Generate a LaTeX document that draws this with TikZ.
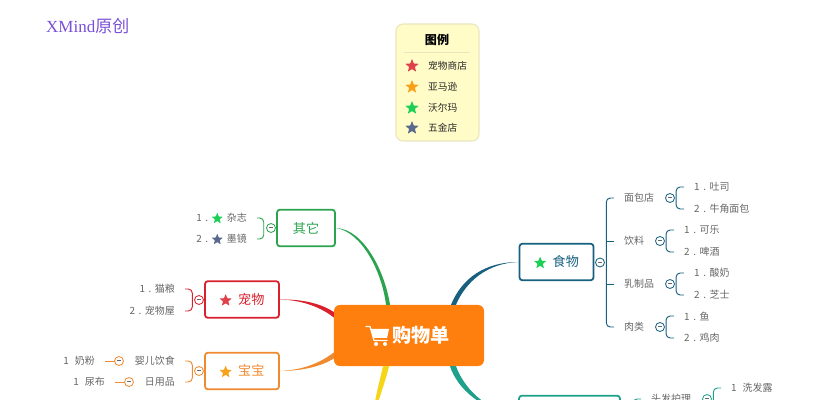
\documentclass[tikz,border=0pt]{standalone}
\usepackage{fontspec}
\setmainfont{Noto Sans CJK SC}
\newfontfamily\titlefont{Liberation Serif}
\usetikzlibrary{calc,shapes.geometric}

\definecolor{foodc}{HTML}{17607F}
\definecolor{otherc}{HTML}{2BA34F}
\definecolor{petc}{HTML}{D9202C}
\definecolor{babyc}{HTML}{F08A30}
\definecolor{carec}{HTML}{1FA08A}
\definecolor{yellowc}{HTML}{F5D517}
\definecolor{rootc}{HTML}{FF7F0E}
\definecolor{leafc}{HTML}{666666}
\definecolor{titlec}{HTML}{7A4FD6}
\definecolor{legendc}{HTML}{FFFCC8}
\definecolor{legendline}{HTML}{E8E5C0}
\definecolor{starred}{HTML}{E0404A}
\definecolor{starorange}{HTML}{F9A11B}
\definecolor{stargreen}{HTML}{1FCF55}
\definecolor{starslate}{HTML}{5A6A8C}

\newcommand{\stargl}[2][11pt]{\tikz[baseline=-0.55ex]\node[fill=#2, star, star points=5, star point ratio=2.3, minimum size=#1, inner sep=0pt, rounded corners=0.4pt]{};}
\newcommand{\nr}[1]{#1\hspace{3pt}.\hspace{3pt}}

\tikzset{
  topic/.style={draw=#1, text=#1, fill=white, rectangle, rounded corners=2.5pt, line width=1.5pt,
    minimum height=1.1cm, inner sep=0pt, font=\fontsize{11.2pt}{12pt}\selectfont},
  leaf/.style={text=leafc, inner xsep=0.3cm, inner ysep=0pt, font=\fontsize{8.5pt}{10pt}\selectfont},
  fold/.style={draw=#1, fill=white, circle, minimum size=0.27cm, inner sep=0pt, line width=0.7pt},
  fork/.style={draw=#1, rounded corners=3.5pt, line width=0.8pt},
  legendtext/.style={anchor=west, inner sep=0pt, text=black!85, font=\fontsize{8.3pt}{10pt}\selectfont},
  legendstar/.style={star, star points=5, star point ratio=2.3, minimum size=12pt, inner sep=0pt, rounded corners=0.4pt}
}
\newcommand{\dash}{\textcolor{leafc}{\rule[0.8pt]{3.2pt}{0.5pt}}}

\begin{document}
\begin{tikzpicture}[x=0.03cm, y=-0.03cm]
  \useasboundingbox (0,0) rectangle (830,400);
  \clip (0,0) rectangle (830,400);

  \node[anchor=west, inner sep=0pt, text=titlec, font=\fontsize{14.5pt}{16pt}\selectfont] (title) at (46,26) {{\titlefont XMind}原创};

  % legend
  \node[draw=legendline, fill=legendc, rounded corners=6pt, line width=0.9pt, minimum width=2.49cm, minimum height=3.51cm, inner sep=0pt] (legend) at (437.5,82.5) {};
  \node[inner sep=0pt, font=\bfseries\fontsize{10.3pt}{12pt}\selectfont] (legendtitle) at (437,40) {图例};
  \coordinate (ruleL) at (404,52);
  \coordinate (ruleR) at (470,52);
  \draw[legendline, line width=0.5pt] (ruleL) -- (ruleR);
  \foreach \name/\col/\txt/\y in {a/starred/宠物商店/66, b/starorange/亚马逊/87, c/stargreen/沃尔玛/108, d/starslate/五金店/128}{
    \node[legendstar, fill=\col] (star\name) at (412,\y) {};
    \node[legendtext] (item\name) at (428,\y) {\txt};
  }

  % main topics
  \node[fill=rootc, rounded corners=5pt, minimum width=4.5cm, minimum height=1.83cm, inner sep=0pt, text=white, font=\bfseries\fontsize{16.3pt}{18pt}\selectfont] (root) at (409,335.5) {\hspace{0.72cm}购物单};
  \node[topic=foodc, minimum width=2.22cm] (food) at (556.5,262) {\stargl{stargreen}\hspace{3pt} 食物};
  \node[topic=otherc, minimum width=1.74cm] (other) at (306,228) {其它};
  \node[topic=petc, minimum width=2.22cm] (pet) at (242,299.5) {\stargl{starred}\hspace{3pt} 宠物};
  \node[topic=babyc, minimum width=2.22cm] (baby) at (242,371) {\stargl{starorange}\hspace{3pt} 宝宝};
  \node[topic=carec, minimum width=3.03cm] (care) at (569.5,414) {};

  % white cart on the root
  \begin{scope}[shift={(root.center)}, white]
    \draw[line width=1pt, line cap=round, line join=round] (-43,-9) -- (-39,-9) -- (-35,5) -- (-22,5);
    \fill (-38,-6.5) -- (-20,-6.5) -- (-22,2.5) -- (-35.5,2.5) -- cycle;
    \fill (-33,8.5) circle (2);
    \fill (-24,8.5) circle (2);
  \end{scope}

  % branches from the root
  \fill[foodc] (food.west) .. controls (485,262) and (462,278) .. ($(root.north)+(42,0)$) -- ($(root.north)+(47,0)$) .. controls (466,281) and (488,263) .. (food.west);
  \fill[otherc] (other.east) .. controls (362,232) and (382,272) .. ($(root.north)+(-23,0)$) -- ($(root.north)+(-19,0)$) .. controls (385,272) and (364,229) .. (other.east);
  \fill[petc] (pet.east) .. controls (303,299) and (322,304) .. ($(root.west)+(0,-23.5)$) -- ($(root.west)+(0,-18)$) .. controls (322,308) and (303,300) .. (pet.east);
  \fill[babyc] (baby.east) .. controls (303,371) and (322,366) .. ($(root.west)+(0,23)$) -- ($(root.west)+(0,17)$) .. controls (320,363) and (303,370) .. (baby.east);
  \coordinate (yellowend) at (370,430);
  \fill[yellowc] ($(root.south)+(-20,0)$) .. controls (386,380) and (380,394) .. (yellowend) .. controls (376,392) and (380,380) .. ($(root.south)+(-26,0)$) -- cycle;
  \fill[carec] ($(root.south)+(41,0)$) .. controls (457,388) and (482,412) .. (care.west) .. controls (485,412) and (463,386) .. ($(root.south)+(47,0)$) -- cycle;

  % food
  \node[fold=foodc] (foodfold) at (600,262.5) {\dash};
  \node[leaf, anchor=west] (bakery) at (614,198) {面包店};
  \node[leaf, anchor=west] (drink) at (614,241) {饮料};
  \node[leaf, anchor=west] (dairy) at (614,284) {乳制品};
  \node[leaf, anchor=west] (meat) at (614,327) {肉类};
  \coordinate (foodfork) at ([xshift=1.2pt]foodfold.east);
  \draw[fork=foodc] (bakery.west) -| (foodfork) |- (meat.west);
  \draw[fork=foodc] (drink.west) -- (drink.west-|foodfork);
  \draw[fork=foodc] (dairy.west) -- (dairy.west-|foodfork);
  \foreach \group/\x/\y/\one/\two in {bakery/670/198/吐司/牛角面包, drink/660/241/可乐/啤酒, dairy/670/284/酸奶/芝士, meat/660/327/鱼/鸡肉}{
    \node[fold=foodc] (\group fold) at (\x,\y) {\dash};
    \node[leaf, anchor=west] (\group one) at ($(\group fold.center)+(14,-11)$) {\nr{1}\one};
    \node[leaf, anchor=west] (\group two) at ($(\group fold.center)+(14,11)$) {\nr{2}\two};
    \draw[fork=foodc] (\group one.west) -| ([xshift=1pt]\group fold.east) |- (\group two.west);
  }

  % other
  \node[fold=otherc] (otherfold) at (271,228) {\dash};
  \node[leaf, anchor=east] (magazine) at (257,218) {\nr{1}\stargl[10pt]{stargreen}\hspace{1.5pt} 杂志};
  \node[leaf, anchor=east] (ink) at (257,239) {\nr{2}\stargl[10pt]{starslate}\hspace{1.5pt} 墨镜};
  \draw[fork=otherc] (magazine.east) -| ([xshift=-2pt]otherfold.west) |- (ink.east);

  % pet
  \node[fold=petc] (petfold) at (199,300) {\dash};
  \node[leaf, anchor=east] (catfood) at (185,289) {\nr{1}猫粮};
  \node[leaf, anchor=east] (pethouse) at (185,311) {\nr{2}宠物屋};
  \draw[fork=petc] (catfood.east) -| ([xshift=-1.5pt]petfold.west) |- (pethouse.east);

  % baby
  \node[fold=babyc] (babyfold) at (199,371) {\dash};
  \node[leaf, anchor=east] (babyfood) at (185,361) {婴儿饮食};
  \node[leaf, anchor=east] (daily) at (185,382) {日用品};
  \draw[fork=babyc] (babyfood.east) -| ([xshift=-1.5pt]babyfold.west) |- (daily.east);
  \node[fold=babyc] (babyfoodfold) at (119,361) {\dash};
  \node[fold=babyc] (dailyfold) at (129,382) {\dash};
  \node[leaf, anchor=east] (milk) at (105,361) {1\hspace{5pt}奶粉};
  \node[leaf, anchor=east] (diaper) at (115,382) {1\hspace{5pt}尿布};
  \draw[babyc, line width=0.8pt] (milk.east) -- (babyfoodfold.west);
  \draw[babyc, line width=0.8pt] (diaper.east) -- (dailyfold.west);

  % care
  \node[leaf, anchor=west] (hair) at (641,399) {头发护理};
  \coordinate (carefork) at (633,425);
  \draw[fork=carec] (carefork) |- (hair.west);
  \node[fold=carec] (hairfold) at (707,399) {\dash};
  \node[leaf, anchor=west] (shampoo) at (721,388) {1\hspace{5pt}洗发露};
  \coordinate (hairend) at (721,410);
  \draw[fork=carec] (shampoo.west) -| ([xshift=1.2pt]hairfold.east) |- (hairend);
\end{tikzpicture}
\end{document}
